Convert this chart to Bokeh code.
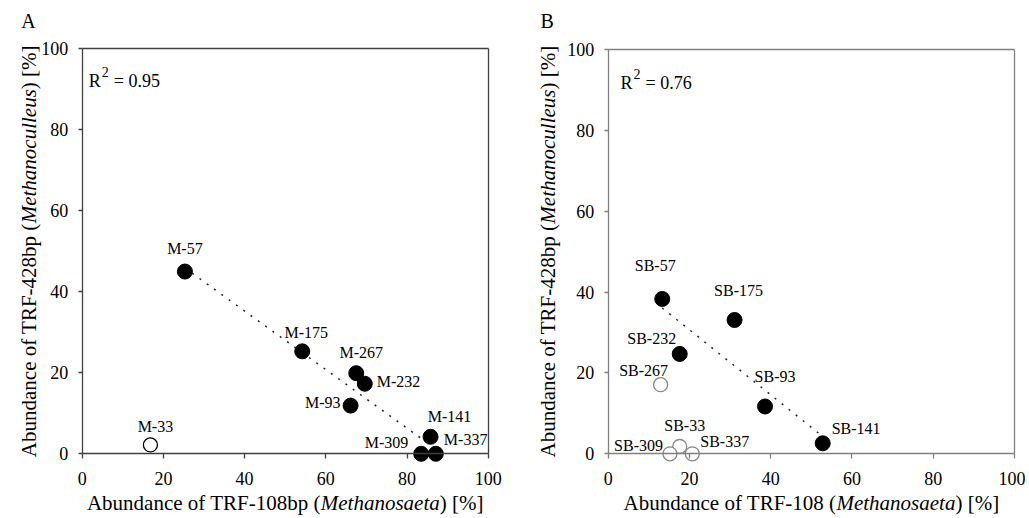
import numpy as np
from math import pi
from bokeh.plotting import figure
from bokeh.models import Range1d, Label, LinearAxis, FixedTicker, ColumnDataSource
from bokeh.layouts import row
from bokeh.embed import file_html
from bokeh.resources import INLINE
from bokeh.core.properties import value

FONT = "Liberation Serif"

# ---------------- data ----------------
TICKS = [0, 20, 40, 60, 80, 100]

a_names = ["M-57", "M-175", "M-267", "M-232", "M-93", "M-141", "M-309", "M-337", "M-33"]
a_x = [25.3, 54.2, 67.5, 69.6, 66.1, 85.8, 83.5, 87.1, 16.8]
a_y = [45.0, 25.3, 19.9, 17.3, 11.9, 4.2, 0.0, 0.0, 2.2]
a_filled = [True, True, True, True, True, True, True, True, False]
a_r2 = "0.95"

b_names = ["SB-57", "SB-175", "SB-232", "SB-93", "SB-141", "SB-267", "SB-33", "SB-309", "SB-337"]
b_x = [13.3, 31.1, 17.6, 38.6, 52.8, 12.9, 17.6, 15.2, 20.7]
b_y = [38.3, 33.1, 24.7, 11.7, 2.6, 17.1, 1.8, 0.0, 0.0]
b_filled = [True, True, True, True, True, False, False, False, False]
b_r2 = "0.76"

a_xtitle = [("Abundance of TRF-108bp (", False), ("Methanosaeta", True), (") [%]", False)]
b_xtitle = [("Abundance of TRF-108 (", False), ("Methanosaeta", True), (") [%]", False)]
ytitle = [("Abundance of TRF-428bp (", False), ("Methanoculleus", True), (") [%]", False)]

# ---------------- label styling (screen offsets, alignment) ----------------
a_lab_style = [(0, -23, "center"), (4, -19, "center"), (5, -21, "center"), (12, -2, "left"),
               (-10, -3, "right"), (19, -20, "center"), (-13, -11, "right"), (8, -14, "left"),
               (5, -18, "center")]
b_lab_style = [(-7, -33, "center"), (4, -29, "center"), (-28, -15, "center"), (10, -30, "center"),
               (9, -15, "left"), (-17, -14, "center"), (5, -21, "center"), (-7, -8, "right"),
               (8, -12, "left")]

NORMAL_W = {'A': .722, 'b': .5, 'u': .5, 'n': .5, 'd': .5, 'a': .444, 'c': .444, 'e': .444,
            ' ': .25, 'o': .5, 'f': .333, 'T': .611, 'R': .667, 'F': .556, '-': .333,
            'p': .5, '(': .333, ')': .333, '[': .333, ']': .333, '%': .833}
ITALIC_W = {'M': .833, 'e': .444, 't': .278, 'h': .5, 'a': .5, 'n': .5, 'o': .5, 's': .389,
            'c': .444, 'u': .5, 'l': .278}

MID = 0.34  # distance (em) from alphabetic baseline up to the "middle" anchor


def text_width(s, size, italic=False):
    table = ITALIC_W if italic else NORMAL_W
    return sum(table.get(ch, 0.5) for ch in s) * size


def add_label(p, text, sx, sy, size, italic=False, align="left", angle=0.0):
    p.add_layout(Label(x=sx, y=sy, x_units="screen", y_units="screen", text=text,
                       text_font=FONT, text_font_size=f"{size}px",
                       text_font_style="italic" if italic else "normal",
                       text_align=align, text_baseline="middle", angle=angle,
                       text_color="black"))


H = 516


def build(names, xs, ys, filled, lab_style, r2, xtitle, letter, geo, axis_color, open_color):
    px0 = geo["page_x"]
    W = geo["width"]
    # pixel positions (canvas) of data 0 and 100
    cx0, cx100 = geo["x0"] - px0, geo["x100"] - px0
    cy0, cy100 = geo["y0"], geo["y100"]
    kx = (cx100 - cx0) / 100.0
    ky = (cy0 - cy100) / 100.0
    xr = Range1d(-cx0 / kx, (W - cx0) / kx)
    yr = Range1d(-(H - cy0) / ky, cy0 / ky)

    p = figure(width=W, height=H, x_range=xr, y_range=yr,
               output_backend="svg", toolbar_location=None,
               x_axis_location=None, y_axis_location=None,
               min_border_left=0, min_border_right=0, min_border_top=0, min_border_bottom=0)
    p.xgrid.visible = False
    p.ygrid.visible = False
    p.outline_line_color = None
    p.background_fill_color = "white"
    p.border_fill_color = "white"

    def mk_axis(loc, side, ticks):
        ax = LinearAxis(ticker=FixedTicker(ticks=ticks), fixed_location=loc, bounds=(0, 100))
        ax.axis_line_color = axis_color
        ax.axis_line_width = 1.3
        ax.major_tick_line_color = axis_color
        ax.major_tick_line_width = 1.3
        ax.minor_tick_in = 0
        ax.minor_tick_out = 0
        ax.major_tick_in = 0
        ax.major_label_text_font = FONT
        ax.major_label_text_font_size = "18px"
        ax.major_label_text_color = "black"
        p.add_layout(ax, side)
        return ax

    xa = mk_axis(0, "below", TICKS)
    xa.major_tick_out = 5
    xa.major_label_standoff = 13
    ya = mk_axis(0, "left", TICKS)
    ya.major_tick_out = 4
    ya.major_label_standoff = 10
    ta = mk_axis(100, "above", [])
    ta.major_tick_out = 0
    ra = mk_axis(100, "right", [])
    ra.major_tick_out = 0

    # regression line through filled points
    fx = np.array([x for x, f in zip(xs, filled) if f])
    fy = np.array([y for y, f in zip(ys, filled) if f])
    k, b0 = np.polyfit(fx, fy, 1)
    lx = np.array([fx.min(), fx.max()])
    p.line(lx, k * lx + b0, line_dash="2 7", line_width=1.5, line_color="#222222")

    src_f = ColumnDataSource(dict(x=[x for x, f in zip(xs, filled) if f],
                                  y=[y for y, f in zip(ys, filled) if f]))
    src_o = ColumnDataSource(dict(x=[x for x, f in zip(xs, filled) if not f],
                                  y=[y for y, f in zip(ys, filled) if not f]))
    p.scatter("x", "y", source=src_f, size=15, marker="circle",
              fill_color="black", line_color="black")
    p.scatter("x", "y", source=src_o, size=14, marker="circle",
              fill_color="white", line_color=open_color, line_width=1.3)

    for al in ("left", "center", "right"):
        idx = [i for i, s in enumerate(lab_style) if s[2] == al]
        if not idx:
            continue
        src = ColumnDataSource(dict(x=[xs[i] for i in idx], y=[ys[i] for i in idx],
                                    t=[names[i] for i in idx],
                                    dx=[lab_style[i][0] for i in idx],
                                    dy=[lab_style[i][1] for i in idx]))
        p.text("x", "y", text="t", source=src, x_offset="dx", y_offset="dy",
               text_align=al, text_baseline="middle", text_font=value(FONT),
               text_font_size="16px", text_color="black")

    def scr(px, py_base, size):
        # convert page position of a text's alphabetic baseline into a "middle" anchor
        return px - px0, H - (py_base - MID * size)

    # panel letter
    lx0, ly0 = geo["letter"]
    add_label(p, letter, *scr(lx0, ly0, 20), 20)
    # R^2
    rx, ry = geo["r2"]
    add_label(p, "R", *scr(rx, ry, 18), 18)
    add_label(p, "2", *scr(rx + 13, ry - 10.5, 14), 14)
    add_label(p, "= " + r2, *scr(rx + 25, ry, 18), 18)

    # x title
    size = 21
    total = sum(text_width(t, size, it) for t, it in xtitle)
    cx = (geo["x0"] + geo["x100"]) / 2
    sx, sy = scr(cx - total / 2, geo["xtitle_base"], size)
    for t, it in xtitle:
        add_label(p, t, sx, sy, size, italic=it)
        sx += text_width(t, size, it)

    # y title (rotated, anchored on its middle line)
    total = sum(text_width(t, size, it) for t, it in ytitle)
    ycx = geo["ytitle_x"]
    ycy = (geo["y0"] + geo["y100"]) / 2
    sx, sy = ycx - px0, H - (ycy + total / 2)
    for t, it in ytitle:
        add_label(p, t, sx, sy, size, italic=it, angle=pi / 2)
        sy += text_width(t, size, it)
    return p


geo_a = dict(page_x=0, width=520, x0=81.7, x100=487.7, y0=453.3, y100=48.3,
             letter=(20.7, 27.3), r2=(88.3, 86.7), xtitle_base=510, ytitle_x=28)
geo_b = dict(page_x=520, width=505, x0=607.7, x100=1014, y0=453.3, y100=49,
             letter=(540, 27.3), r2=(620, 89), xtitle_base=510, ytitle_x=547)

pa = build(a_names, a_x, a_y, a_filled, a_lab_style, a_r2, a_xtitle, "A", geo_a, "#404040", "black")
pb = build(b_names, b_x, b_y, b_filled, b_lab_style, b_r2, b_xtitle, "B", geo_b, "#808080", "#888888")

layout = row(pa, pb)
open("out.html", "w").write(file_html(layout, INLINE))
